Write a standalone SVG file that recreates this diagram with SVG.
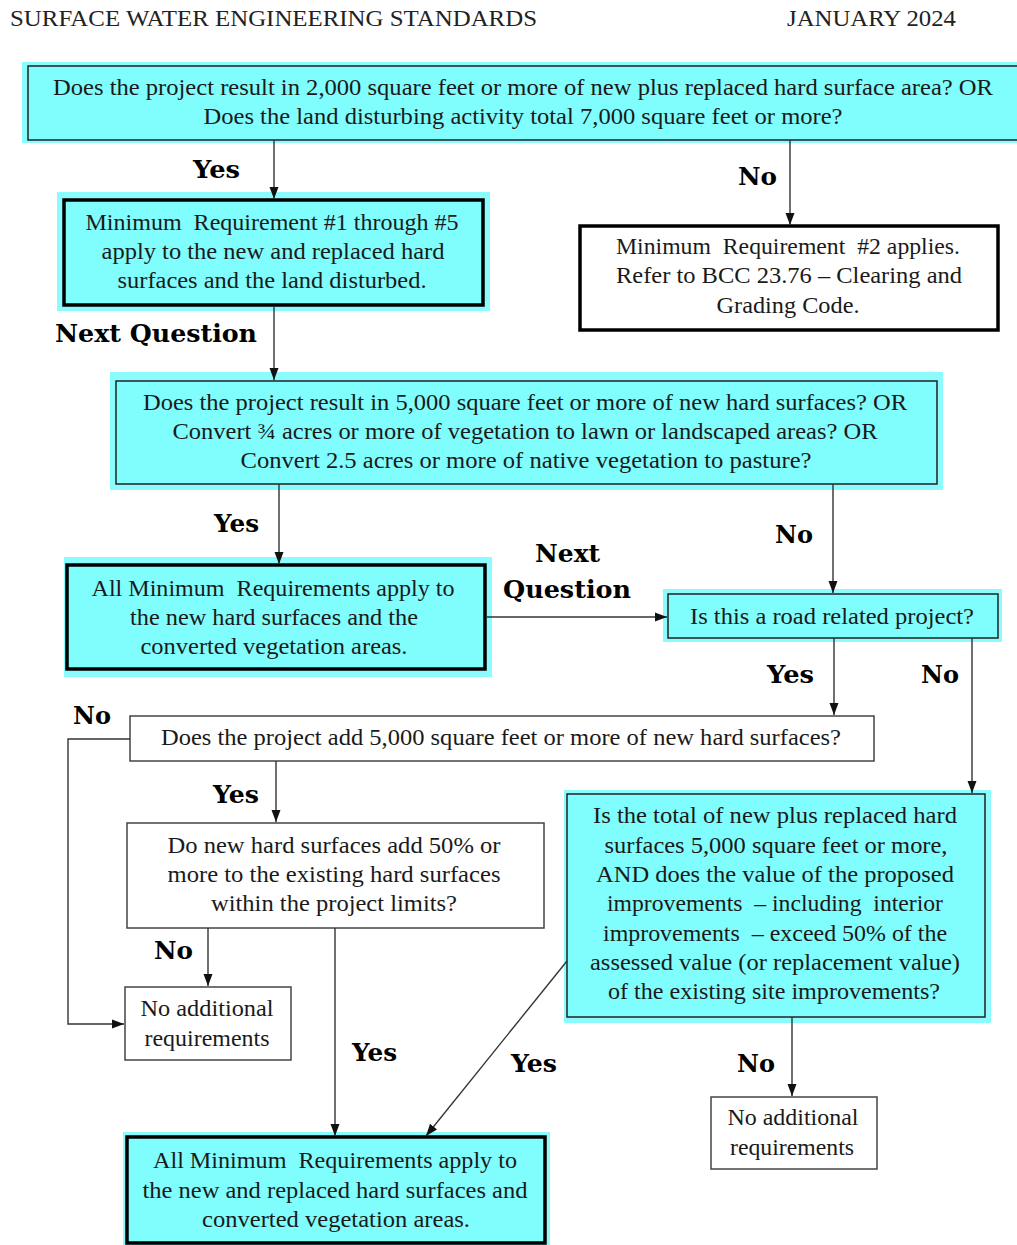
<svg xmlns="http://www.w3.org/2000/svg" width="1017" height="1245" viewBox="0 0 1017 1245">
<defs>
<style>
.t{font-family:"Liberation Serif","Times New Roman",serif;font-size:23px;fill:#1a1a1a;text-anchor:middle;white-space:pre}
.h{font-family:"Liberation Serif","Times New Roman",serif;font-size:24px;fill:#222}
.l{font-family:"DejaVu Serif","Liberation Serif",serif;font-weight:bold;font-size:25px;fill:#000}
.glow{fill:#8cfbfd;stroke:none}
.cy{fill:#80fdfd;stroke:#222;stroke-width:1.5}
.cyk{fill:#80fdfd;stroke:#000;stroke-width:3.5}
.wk{fill:#fff;stroke:#000;stroke-width:3.5}
.w{fill:#fff;stroke:#444;stroke-width:1.5}
.c{fill:none;stroke:#333;stroke-width:1.4;marker-end:url(#arr)}
</style>
<marker id="arr" viewBox="0 0 12 12" refX="12" refY="6" markerWidth="12" markerHeight="12" markerUnits="userSpaceOnUse" orient="auto">
<path d="M0,1.5 L12,6 L0,10.5 z" fill="#111"/>
</marker>
</defs>
<rect width="1017" height="1245" fill="#fff"/>
<g id="header">
<text class="h" x="10" y="26" textLength="527" lengthAdjust="spacingAndGlyphs">SURFACE WATER ENGINEERING STANDARDS</text>
<text class="h" x="787" y="26" textLength="169" lengthAdjust="spacingAndGlyphs">JANUARY 2024</text>
</g>
<g id="labels">
<text class="l" x="193" y="178" textLength="47" lengthAdjust="spacingAndGlyphs">Yes</text>
<text class="l" x="738" y="185" textLength="39" lengthAdjust="spacingAndGlyphs">No</text>
<text class="l" x="55" y="342" textLength="202" lengthAdjust="spacingAndGlyphs">Next Question</text>
<text class="l" x="214" y="532" textLength="45" lengthAdjust="spacingAndGlyphs">Yes</text>
<text class="l" x="775" y="543" textLength="38" lengthAdjust="spacingAndGlyphs">No</text>
<text class="l" x="535" y="562" textLength="65" lengthAdjust="spacingAndGlyphs">Next</text>
<text class="l" x="503" y="598" textLength="128" lengthAdjust="spacingAndGlyphs">Question</text>
<text class="l" x="767" y="683" textLength="47" lengthAdjust="spacingAndGlyphs">Yes</text>
<text class="l" x="921" y="683" textLength="38" lengthAdjust="spacingAndGlyphs">No</text>
<text class="l" x="73" y="724" textLength="38" lengthAdjust="spacingAndGlyphs">No</text>
<text class="l" x="213" y="803" textLength="46" lengthAdjust="spacingAndGlyphs">Yes</text>
<text class="l" x="154" y="959" textLength="39" lengthAdjust="spacingAndGlyphs">No</text>
<text class="l" x="352" y="1061" textLength="45" lengthAdjust="spacingAndGlyphs">Yes</text>
<text class="l" x="511" y="1072" textLength="46" lengthAdjust="spacingAndGlyphs">Yes</text>
<text class="l" x="737" y="1072" textLength="38" lengthAdjust="spacingAndGlyphs">No</text>
</g>
<g id="n1">
<rect class="glow" x="22" y="62" width="1000" height="81"/>
<rect class="cy" x="28" y="66" width="1000" height="74"/>
<text class="t" x="523" y="95" textLength="940" lengthAdjust="spacingAndGlyphs">Does the project result in 2,000 square feet or more of new plus replaced hard surface area? OR</text>
<text class="t" x="523" y="124" textLength="639" lengthAdjust="spacingAndGlyphs">Does the land disturbing activity total 7,000 square feet or more?</text>
</g>
<g id="n2">
<rect class="glow" x="57" y="192" width="433" height="119"/>
<rect class="cyk" x="64" y="200" width="419" height="105"/>
<text class="t" x="272" y="230" textLength="373" lengthAdjust="spacingAndGlyphs">Minimum  Requirement #1 through #5</text>
<text class="t" x="273" y="259" textLength="343" lengthAdjust="spacingAndGlyphs">apply to the new and replaced hard</text>
<text class="t" x="272" y="288" textLength="309" lengthAdjust="spacingAndGlyphs">surfaces and the land disturbed.</text>
</g>
<g id="n3">
<rect class="wk" x="580" y="226" width="418" height="104"/>
<text class="t" x="788" y="254" textLength="344" lengthAdjust="spacingAndGlyphs">Minimum  Requirement  #2 applies.</text>
<text class="t" x="789" y="283" textLength="346" lengthAdjust="spacingAndGlyphs">Refer to BCC 23.76 – Clearing and</text>
<text class="t" x="788" y="313" textLength="143" lengthAdjust="spacingAndGlyphs">Grading Code.</text>
</g>
<g id="n4">
<rect class="glow" x="110" y="372" width="833" height="118"/>
<rect class="cy" x="116" y="381" width="821" height="103"/>
<text class="t" x="525" y="410" textLength="764" lengthAdjust="spacingAndGlyphs">Does the project result in 5,000 square feet or more of new hard surfaces? OR</text>
<text class="t" x="525" y="439" textLength="705" lengthAdjust="spacingAndGlyphs">Convert ¾ acres or more of vegetation to lawn or landscaped areas? OR</text>
<text class="t" x="526" y="468" textLength="571" lengthAdjust="spacingAndGlyphs">Convert 2.5 acres or more of native vegetation to pasture?</text>
</g>
<g id="n5">
<rect class="glow" x="64" y="557" width="428" height="120"/>
<rect class="cyk" x="67" y="565" width="418" height="104"/>
<text class="t" x="273" y="596" textLength="363" lengthAdjust="spacingAndGlyphs">All Minimum  Requirements apply to</text>
<text class="t" x="274" y="625" textLength="288" lengthAdjust="spacingAndGlyphs">the new hard surfaces and the</text>
<text class="t" x="274" y="654" textLength="267" lengthAdjust="spacingAndGlyphs">converted vegetation areas.</text>
</g>
<g id="n6">
<rect class="glow" x="663" y="589" width="339" height="53"/>
<rect class="cy" x="668" y="594" width="330" height="44"/>
<text class="t" x="832" y="624" textLength="284" lengthAdjust="spacingAndGlyphs">Is this a road related project?</text>
</g>
<g id="n7">
<rect class="w" x="130" y="716" width="744" height="45"/>
<text class="t" x="501" y="745" textLength="680" lengthAdjust="spacingAndGlyphs">Does the project add 5,000 square feet or more of new hard surfaces?</text>
</g>
<g id="n8">
<rect class="w" x="127" y="823" width="417" height="105"/>
<text class="t" x="334" y="853" textLength="333" lengthAdjust="spacingAndGlyphs">Do new hard surfaces add 50% or</text>
<text class="t" x="334" y="882" textLength="333" lengthAdjust="spacingAndGlyphs">more to the existing hard surfaces</text>
<text class="t" x="334" y="911" textLength="246" lengthAdjust="spacingAndGlyphs">within the project limits?</text>
</g>
<g id="n9">
<rect class="w" x="125" y="987" width="166" height="73"/>
<text class="t" x="207" y="1016" textLength="133" lengthAdjust="spacingAndGlyphs">No additional</text>
<text class="t" x="207" y="1046" textLength="125" lengthAdjust="spacingAndGlyphs">requirements</text>
</g>
<g id="n10">
<rect class="glow" x="564" y="790" width="427" height="233"/>
<rect class="cy" x="567" y="794" width="418" height="223"/>
<text class="t" x="775" y="823" textLength="364" lengthAdjust="spacingAndGlyphs">Is the total of new plus replaced hard</text>
<text class="t" x="776" y="853" textLength="343" lengthAdjust="spacingAndGlyphs">surfaces 5,000 square feet or more,</text>
<text class="t" x="775" y="882" textLength="358" lengthAdjust="spacingAndGlyphs">AND does the value of the proposed</text>
<text class="t" x="775" y="911" textLength="336" lengthAdjust="spacingAndGlyphs">improvements  – including  interior</text>
<text class="t" x="775" y="941" textLength="344" lengthAdjust="spacingAndGlyphs">improvements  – exceed 50% of the</text>
<text class="t" x="775" y="970" textLength="370" lengthAdjust="spacingAndGlyphs">assessed value (or replacement value)</text>
<text class="t" x="774" y="999" textLength="332" lengthAdjust="spacingAndGlyphs">of the existing site improvements?</text>
</g>
<g id="n11">
<rect class="w" x="711" y="1097" width="166" height="72"/>
<text class="t" x="793" y="1125" textLength="131" lengthAdjust="spacingAndGlyphs">No additional</text>
<text class="t" x="792" y="1155" textLength="124" lengthAdjust="spacingAndGlyphs">requirements</text>
</g>
<g id="n12">
<rect class="glow" x="123" y="1132" width="427" height="113"/>
<rect class="cyk" x="127" y="1137" width="418" height="106"/>
<text class="t" x="335" y="1168" textLength="364" lengthAdjust="spacingAndGlyphs">All Minimum  Requirements apply to</text>
<text class="t" x="335" y="1198" textLength="385" lengthAdjust="spacingAndGlyphs">the new and replaced hard surfaces and</text>
<text class="t" x="336" y="1227" textLength="268" lengthAdjust="spacingAndGlyphs">converted vegetation areas.</text>
</g>
<g id="connectors">
<path class="c" d="M274,140 V199"/>
<path class="c" d="M790,140 V225"/>
<path class="c" d="M274,307 V380"/>
<path class="c" d="M279,484 V564"/>
<path class="c" d="M833,484 V593"/>
<path class="c" d="M487,617 H667"/>
<path class="c" d="M834,638 V715"/>
<path class="c" d="M972,638 V793"/>
<path class="c" d="M130,739 H68 V1024 H124"/>
<path class="c" d="M276,761 V822"/>
<path class="c" d="M208,928 V986"/>
<path class="c" d="M335,928 V1136"/>
<path class="c" d="M567,961 L426,1136"/>
<path class="c" d="M792,1017 V1096"/>
</g>
</svg>
